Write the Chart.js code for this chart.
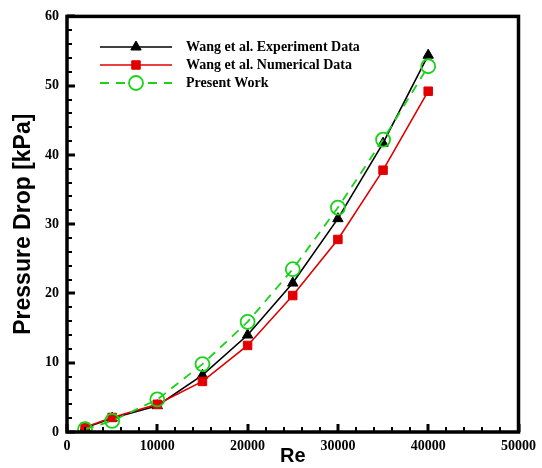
<!DOCTYPE html>
<html><head><meta charset="utf-8">
<script src="https://cdn.jsdelivr.net/npm/chart.js@4/dist/chart.umd.min.js"></script>
<style>html,body{margin:0;padding:0;background:#fff}#wrap{width:542px;height:468px}</style>
</head><body><div id="wrap"><canvas id="c" width="542" height="468"></canvas></div>
<script>
const reValues = [2000, 5000, 10000, 15000, 20000, 25000, 30000, 35000, 40000];
const experimentData = [0.6, 2.0, 3.8, 8.2, 14.0, 21.5, 30.8, 41.7, 54.4];
const numericalData = [0.7, 2.1, 4.0, 7.3, 12.5, 19.7, 27.8, 37.8, 49.2];
const presentWork = [0.4, 1.6, 4.7, 9.8, 15.9, 23.5, 32.4, 42.2, 52.8];
const xTicks = [0, 10000, 20000, 30000, 40000, 50000];
const yTicks = [0, 10, 20, 30, 40, 50, 60];
const seriesNames = ['Wang et al. Experiment Data', 'Wang et al. Numerical Data', 'Present Work'];

const GREEN = '#19d219', RED = '#e00000';
const pts = arr => reValues.map((x, i) => ({x, y: arr[i]}));

const framePlugin = {
  id: 'frame',
  afterDatasetsDraw(chart) {
    const {ctx, chartArea: a, scales: {x, y}} = chart;
    ctx.save();
    ctx.strokeStyle = '#000';
    for (let v = 0; v <= 60; v += 2) {
      const py = Math.round(y.getPixelForValue(v));
      const len = v % 10 === 0 ? 8 : 5;
      ctx.lineWidth = v % 10 === 0 ? 3 : 2;
      ctx.beginPath(); ctx.moveTo(a.left, py); ctx.lineTo(a.left + len, py); ctx.stroke();
    }
    for (let v = 0; v <= 50000; v += 2000) {
      const px = Math.round(x.getPixelForValue(v));
      const len = v % 10000 === 0 ? 8 : 5;
      ctx.lineWidth = v % 10000 === 0 ? 3 : 2;
      ctx.beginPath(); ctx.moveTo(px, a.bottom); ctx.lineTo(px, a.bottom - len); ctx.stroke();
    }
    ctx.lineWidth = 3.5;
    ctx.strokeRect(a.left, a.top, a.right - a.left, a.bottom - a.top);
    // legend
    const rows = [47, 65, 83];
    chart.data.datasets.forEach((ds, i) => {
      const yy = rows[i];
      ctx.strokeStyle = ds.borderColor; ctx.lineWidth = ds.borderWidth;
      ctx.setLineDash(ds.borderDash || []);
      ctx.beginPath(); ctx.moveTo(100, yy); ctx.lineTo(172, yy); ctx.stroke();
      ctx.setLineDash([]);
      ctx.fillStyle = ds.pointBackgroundColor; ctx.strokeStyle = ds.pointBorderColor;
      ctx.lineWidth = ds.pointBorderWidth;
      if (ds.pointStyle === 'circle') {
        ctx.fillStyle = '#fff';
        ctx.beginPath(); ctx.arc(136, yy, ds.pointRadius, 0, Math.PI * 2); ctx.fill();
      }
      Chart.helpers.drawPoint(ctx, {pointStyle: ds.pointStyle, radius: ds.pointRadius, borderWidth: ds.pointBorderWidth, rotation: 0}, 136, yy);
      ctx.fillStyle = '#000';
      ctx.font = 'bold 14px "Liberation Serif"';
      ctx.textBaseline = 'middle'; ctx.textAlign = 'left';
      ctx.fillText(ds.label, 186, yy);
    });
    ctx.restore();
  }
};

new Chart(document.getElementById('c'), {
  type: 'line',
  data: {
    datasets: [
      {label: seriesNames[0], data: pts(experimentData), borderColor: '#000', backgroundColor: '#000', borderWidth: 1.6,
       pointStyle: 'triangle', pointRadius: 6, pointBackgroundColor: '#000', pointBorderColor: '#000', pointBorderWidth: 1, order: 2},
      {label: seriesNames[1], data: pts(numericalData), borderColor: RED, backgroundColor: RED, borderWidth: 1.6,
       pointStyle: 'rect', pointRadius: 6, pointBackgroundColor: RED, pointBorderColor: RED, pointBorderWidth: 1, order: 1},
      {label: seriesNames[2], data: pts(presentWork), borderColor: GREEN, backgroundColor: 'rgba(0,0,0,0)', borderWidth: 1.8, borderDash: [9, 7],
       pointStyle: 'circle', pointRadius: 7, pointBackgroundColor: 'rgba(0,0,0,0)', pointBorderColor: GREEN, pointBorderWidth: 1.8, order: 0}
    ]
  },
  options: {
    responsive: false, animation: false,
    layout: {padding: {top: 16, right: 19, left: 0, bottom: 0}},
    plugins: {legend: {display: false}, tooltip: {enabled: false}},
    scales: {
      x: {type: 'linear', min: 0, max: 50000,
        afterBuildTicks: s => { s.ticks = xTicks.map(v => ({value: v})); },
        afterFit: s => { s.height = 36; },
        grid: {display: false, drawTicks: false}, border: {display: false},
        ticks: {padding: 6, color: '#000', font: {family: 'Liberation Serif', weight: 'bold', size: 14}, callback: v => String(v)},
        title: {display: true, text: 'Re', color: '#000', padding: {top: 0, bottom: 0}, font: {family: 'Liberation Sans', weight: 'bold', size: 20}}
      },
      y: {type: 'linear', min: 0, max: 60,
        afterBuildTicks: s => { s.ticks = yTicks.map(v => ({value: v})); },
        afterFit: s => { s.width = 67; },
        grid: {display: false, drawTicks: false}, border: {display: false},
        ticks: {padding: 8, color: '#000', font: {family: 'Liberation Serif', weight: 'bold', size: 14}},
        title: {display: true, text: 'Pressure Drop [kPa]', color: '#000', padding: {top: 10, bottom: 0}, font: {family: 'Liberation Sans', weight: 'bold', size: 23}}
      }
    }
  },
  plugins: [framePlugin]
});
</script></body></html>
